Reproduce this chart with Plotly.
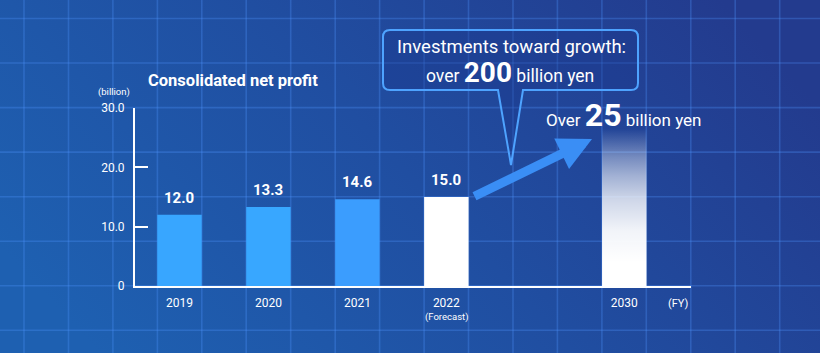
import base64
import plotly.graph_objects as go

# ---------------- data ----------------
years = ["2019", "2020", "2021", "2022", "2030"]
slots = [0, 1, 2, 3, 5]
profit = [12.0, 13.3, 14.6, 15.0]
target_2030 = 26.5
bar_colors = ["#38a6ff", "#38a7ff", "#3b9dfe", "#ffffff"]
y_ticks = [0, 10, 20, 30]
y_tick_text = ["0", "10.0", "20.0", "30.0"]

W, H = 820, 353
FONT = "Roboto"
BAR_W = 0.5


def px(x):
    return x / W


def py(y):
    return 1 - y / H


# ---------------- background (gradient + grid) ----------------
grid_v = "".join(
    f'<line x1="{24 + 44.45 * i:.1f}" y1="0" x2="{24 + 44.45 * i:.1f}" y2="{H}"/>' for i in range(18)
)
grid_h = "".join(
    f'<line x1="0" y1="{18.5 + 44.55 * i:.1f}" x2="{W}" y2="{18.5 + 44.55 * i:.1f}"/>' for i in range(8)
)
svg = f'''<svg xmlns="http://www.w3.org/2000/svg" width="{W}" height="{H}" viewBox="0 0 {W} {H}" preserveAspectRatio="none">
<defs><linearGradient id="g" x1="0" y1="0.7" x2="1" y2="0.3">
<stop offset="0" stop-color="#1e60b1"/><stop offset="0.5" stop-color="#204ea1"/><stop offset="1" stop-color="#233b8e"/>
</linearGradient></defs>
<rect width="{W}" height="{H}" fill="url(#g)"/>
<g stroke="rgba(80,150,255,0.30)" stroke-width="1.6">{grid_v}{grid_h}</g>
</svg>'''
bg_src = "data:image/svg+xml;base64," + base64.b64encode(svg.encode()).decode()

fig = go.Figure()

# bars 2019-2022
fig.add_trace(go.Bar(
    x=slots[:4], y=profit, width=BAR_W,
    marker=dict(color=bar_colors, line=dict(width=0)),
    hoverinfo="skip", showlegend=False,
))

# 2030 bar with fading gradient
x5 = slots[4]
fig.add_trace(go.Scatter(
    x=[x5 - BAR_W / 2, x5 + BAR_W / 2, x5 + BAR_W / 2, x5 - BAR_W / 2, x5 - BAR_W / 2],
    y=[0, 0, target_2030, target_2030, 0],
    mode="lines", line=dict(width=0), fill="toself",
    fillgradient=dict(
        type="vertical",
        colorscale=[[0, "rgba(255,255,255,1)"], [0.15, "rgba(255,255,255,1)"],
                    [0.35, "rgba(255,255,255,0.94)"], [0.55, "rgba(255,255,255,0.78)"],
                    [0.7, "rgba(255,255,255,0.58)"], [0.82, "rgba(255,255,255,0.38)"],
                    [0.92, "rgba(255,255,255,0.17)"], [1, "rgba(255,255,255,0.0)"]],
    ),
    hoverinfo="skip", showlegend=False,
))

annotations = []
# value labels
for s, v in zip(slots[:4], profit):
    annotations.append(dict(
        x=s, y=v, xref="x", yref="y", text=f"<b>{v:.1f}</b>", showarrow=False,
        yshift=17, font=dict(family=FONT, size=15, color="white"),
    ))

# title / units
annotations += [
    dict(x=px(146), y=py(81), xref="paper", yref="paper", xanchor="left", yanchor="middle",
         text="<b>Consolidated net profit</b>", showarrow=False,
         font=dict(family=FONT, size=16.5, color="white")),
    dict(x=px(132), y=py(92), xref="paper", yref="paper", xanchor="right", yanchor="middle",
         text="(billion)", showarrow=False, font=dict(family=FONT, size=9.5, color="white")),
    dict(x=px(678), y=py(303), xref="paper", yref="paper", xanchor="center", yanchor="middle",
         text="(FY)", showarrow=False, font=dict(family=FONT, size=11, color="white")),
    dict(x=3, y=py(317), xref="x", yref="paper", xanchor="center", yanchor="middle",
         text="(Forecast)", showarrow=False, font=dict(family=FONT, size=9.5, color="white")),
    # callout text
    dict(x=px(511), y=py(47), xref="paper", yref="paper", xanchor="center", yanchor="middle",
         text="Investments toward growth:", showarrow=False,
         font=dict(family=FONT, size=18.5, color="white")),
    dict(x=px(510), y=py(72), xref="paper", yref="paper", xanchor="center", yanchor="middle",
         text="over <b><span style='font-size:28px'>200</span></b> billion yen", showarrow=False,
         font=dict(family=FONT, size=17.5, color="white")),
    dict(x=px(623), y=py(115), xref="paper", yref="paper", xanchor="center", yanchor="middle",
         text="Over <b><span style='font-size:32px'>25</span></b> billion yen", showarrow=False,
         font=dict(family=FONT, size=17, color="white")),
    # growth arrow
    dict(x=px(592), y=py(139), xref="paper", yref="paper", ax=473 - 592, ay=197 - 139,
         axref="pixel", ayref="pixel", text="", showarrow=True, arrowhead=2, arrowsize=0.75,
         arrowwidth=9, arrowcolor="#3a8ef5", standoff=0),
]

# callout bubble path
x0, x1, y0, y1, r = 383, 638, 30, 90, 7
pl, pr, tx, ty = 498, 523, 511, 165


def P(x, y):
    return f"{px(x):.5f},{py(y):.5f}"


path = (f"M {P(x0 + r, y0)} L {P(x1 - r, y0)} Q {P(x1, y0)} {P(x1, y0 + r)} "
        f"L {P(x1, y1 - r)} Q {P(x1, y1)} {P(x1 - r, y1)} L {P(pr, y1)} L {P(tx, ty)} "
        f"L {P(pl, y1)} L {P(x0 + r, y1)} Q {P(x0, y1)} {P(x0, y1 - r)} "
        f"L {P(x0, y0 + r)} Q {P(x0, y0)} {P(x0 + r, y0)} Z")

shapes = [dict(type="path", path=path, xref="paper", yref="paper",
               line=dict(color="#4ea3ff", width=2), fillcolor="rgba(25,55,140,0.35)", layer="above")]

fig.update_layout(
    width=W, height=H,
    margin=dict(l=0, r=0, t=0, b=0, autoexpand=False),
    paper_bgcolor="#1f4fa2", plot_bgcolor="rgba(0,0,0,0)",
    images=[dict(source=bg_src, xref="paper", yref="paper", x=0, y=1, sizex=1, sizey=1,
                 sizing="stretch", xanchor="left", yanchor="top", layer="below")],
    xaxis=dict(domain=[px(135), px(691)], range=[-0.5, 5.75], showgrid=False, zeroline=False,
               automargin=False,
               showline=True, linecolor="white", linewidth=2,
               tickvals=slots, ticktext=years, ticks="", ticklabelstandoff=5,
               tickfont=dict(family=FONT, size=12, color="white"), fixedrange=True),
    yaxis=dict(domain=[1 - 286 / H, 1 - 108 / H], range=[0, 30], showgrid=False, zeroline=False,
               automargin=False,
               showline=True, linecolor="white", linewidth=2,
               tickvals=y_ticks, ticktext=y_tick_text, ticks="inside", ticklen=13, tickwidth=2,
               tickcolor="white", ticklabelstandoff=6,
               tickfont=dict(family=FONT, size=12, color="white"), fixedrange=True),
    annotations=annotations, shapes=shapes, showlegend=False,
)

fig.write_html("out.html", config={"displayModeBar": False})
